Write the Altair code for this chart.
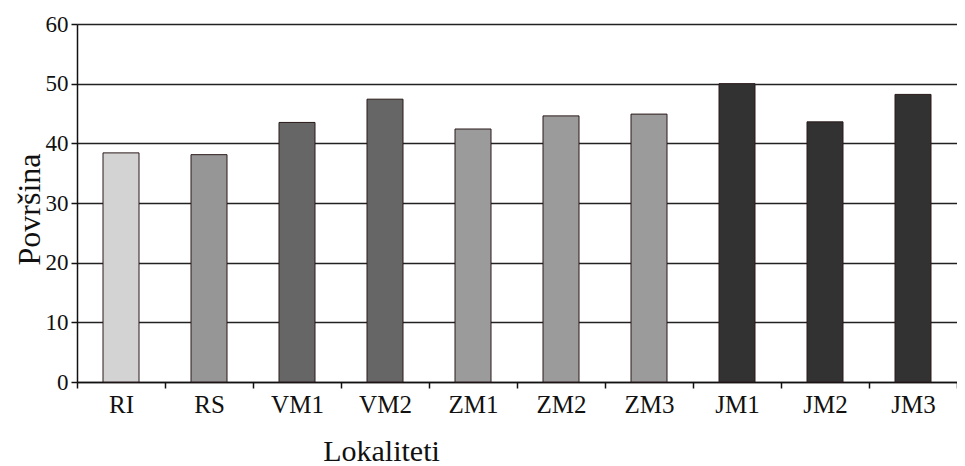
import altair as alt
import pandas as pd

categories = ["RI", "RS", "VM1", "VM2", "ZM1", "ZM2", "ZM3", "JM1", "JM2", "JM3"]
values = [38.4, 38.1, 43.5, 47.4, 42.4, 44.6, 44.9, 50.0, 43.6, 48.2]
bar_colors = ["#d3d3d3", "#969696", "#666666", "#666666", "#9b9b9b",
              "#9b9b9b", "#9b9b9b", "#323232", "#323232", "#323232"]

df = pd.DataFrame({"Lokaliteti": categories, "Površina": values})

FONT = "Liberation Serif"

chart = (
    alt.Chart(df)
    .mark_bar(size=36, stroke="#2a1a1a", strokeWidth=1)
    .encode(
        x=alt.X(
            "Lokaliteti:N",
            sort=categories,
            scale=alt.Scale(paddingInner=0, paddingOuter=0),
            axis=alt.Axis(
                title="Lokaliteti",
                labelAngle=0,
                tickBand="extent",
                tickSize=6,
                tickColor="#111111",
                tickWidth=1.5,
                domainColor="#111111",
                domainWidth=1.5,
                labelFont=FONT,
                labelFontSize=25,
                labelColor="#111111",
                labelPadding=4,
                titleFont=FONT,
                titleFontSize=30,
                titleFontWeight="normal",
                titleColor="#111111",
                titleX=304,
                titleY=78,
                titleBaseline="alphabetic",
                titleAlign="center",
                grid=False,
            ),
        ),
        y=alt.Y(
            "Površina:Q",
            scale=alt.Scale(domain=[0, 60], nice=False),
            axis=alt.Axis(
                title="Površina",
                values=[0, 10, 20, 30, 40, 50, 60],
                grid=True,
                gridColor="#222222",
                gridWidth=1.3,
                tickSize=6,
                tickColor="#111111",
                tickWidth=1.5,
                domainColor="#111111",
                domainWidth=1.5,
                labelFont=FONT,
                labelFontSize=23,
                labelColor="#111111",
                labelPadding=3,
                titleFont=FONT,
                titleFontSize=32,
                titleFontWeight="normal",
                titleColor="#111111",
                titleAngle=270,
                titleX=-38,
                titleY=185,
                titleBaseline="alphabetic",
                titleAlign="center",
            ),
        ),
        color=alt.Color(
            "Lokaliteti:N",
            scale=alt.Scale(domain=categories, range=bar_colors),
            legend=None,
        ),
    )
    .properties(
        width=880,
        height=358,
        autosize=alt.AutoSizeParams(type="none"),
        padding={"left": 69, "top": 16, "right": 0, "bottom": 84},
    )
    .configure_view(stroke=None)
    .configure(background="white")
)

chart.save("out.html", embed_options={"renderer": "svg", "actions": False})
